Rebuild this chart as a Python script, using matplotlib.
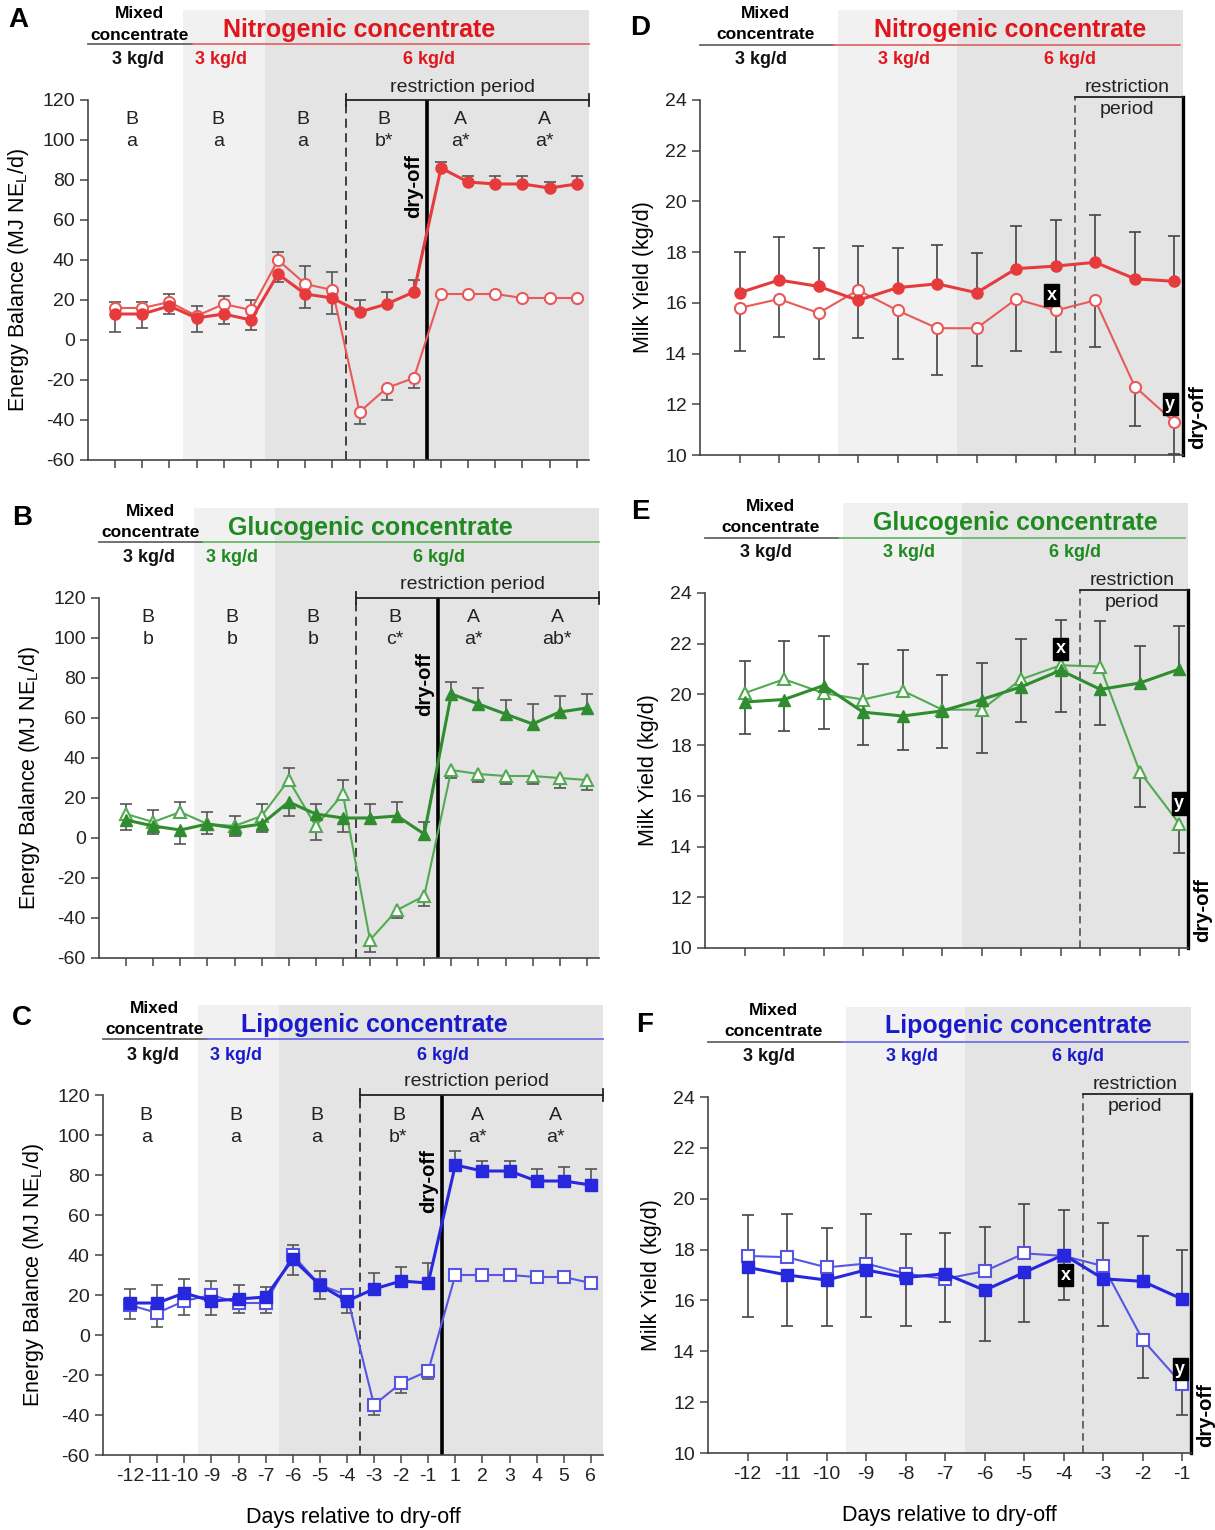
import numpy as np
import matplotlib.pyplot as plt

plt.rcParams['font.family'] = ['Liberation Sans', 'DejaVu Sans']
plt.rcParams['axes.unicode_minus'] = False

# ---- data ----
days_eb = [-12, -11, -10, -9, -8, -7, -6, -5, -4, -3, -2, -1, 1, 2, 3, 4, 5, 6]
days_my = [-12, -11, -10, -9, -8, -7, -6, -5, -4, -3, -2, -1]

# energy balance (MJ NEL/d), filled = control, open = restricted
eb_nitro_filled = [13, 13, 17, 11, 13, 10, 33, 23, 21, 14, 18, 24, 86, 79, 78, 78, 76, 78]
eb_nitro_filled_se = [9, 7, 4, 7, 5, 5, 4, 7, 8, 6, 6, 6, 3, 3, 4, 4, 3, 4]
eb_nitro_open = [16, 16, 19, 12, 18, 15, 40, 28, 25, -36, -24, -19, 23, 23, 23, 21, 21, 21]
eb_nitro_open_se = [3, 3, 4, 5, 4, 5, 4, 9, 9, 6, 6, 5, 1, 1, 1, 1, 1, 1]

eb_gluco_filled = [9, 6, 4, 7, 5, 7, 18, 12, 10, 10, 11, 2, 72, 67, 62, 57, 63, 65]
eb_gluco_filled_se = [5, 4, 7, 6, 4, 4, 7, 5, 7, 7, 7, 6, 6, 8, 7, 10, 8, 7]
eb_gluco_open = [12, 8, 13, 7, 6, 11, 29, 6, 22, -51, -36, -29, 34, 32, 31, 31, 30, 29]
eb_gluco_open_se = [5, 6, 5, 5, 5, 6, 6, 7, 7, 6, 4, 5, 4, 4, 4, 4, 5, 5]

eb_lipo_filled = [16, 16, 21, 17, 18, 19, 38, 25, 17, 23, 27, 26, 85, 82, 82, 77, 77, 75]
eb_lipo_filled_se = [7, 9, 7, 7, 7, 5, 8, 7, 6, 8, 7, 10, 7, 5, 5, 6, 7, 8]
eb_lipo_open = [15, 11, 17, 20, 16, 16, 40, 25, 20, -35, -24, -18, 30, 30, 30, 29, 29, 26]
eb_lipo_open_se = [7, 7, 7, 7, 5, 5, 5, 7, 2, 5, 5, 4, 2, 2, 2, 2, 2, 2]

# milk yield (kg/d)
my_nitro_filled = [16.4, 16.9, 16.65, 16.1, 16.6, 16.75, 16.4, 17.35, 17.45, 17.6, 16.95, 16.85]
my_nitro_filled_se = [1.6, 1.7, 1.5, 1.5, 1.55, 1.55, 1.55, 1.7, 1.8, 1.85, 1.85, 1.8]
my_nitro_open = [15.8, 16.15, 15.6, 16.5, 15.7, 15.0, 15.0, 16.15, 15.7, 16.1, 12.7, 11.3]
my_nitro_open_se = [1.7, 1.5, 1.8, 1.75, 1.9, 1.85, 1.5, 2.05, 1.65, 1.85, 1.55, 1.25]

my_gluco_filled = [19.7, 19.8, 20.35, 19.3, 19.15, 19.35, 19.8, 20.3, 20.95, 20.2, 20.45, 21.0]
my_gluco_filled_se = [1.25, 1.25, 1.95, 1.3, 1.35, 1.45, 1.45, 1.4, 1.65, 1.4, 1.45, 1.7]
my_gluco_open = [20.05, 20.6, 20.05, 19.8, 20.15, 19.4, 19.4, 20.6, 21.15, 21.1, 16.95, 14.9]
my_gluco_open_se = [1.25, 1.5, 1.4, 1.4, 1.6, 1.35, 1.7, 1.6, 1.8, 1.8, 1.4, 1.15]

my_lipo_filled = [17.3, 17.0, 16.8, 17.2, 16.9, 17.05, 16.4, 17.1, 17.8, 16.85, 16.75, 16.05]
my_lipo_filled_se = [1.95, 2.0, 1.8, 1.85, 1.9, 1.6, 2.0, 1.95, 1.75, 1.85, 1.8, 1.95]
my_lipo_open = [17.75, 17.7, 17.3, 17.45, 17.05, 16.85, 17.15, 17.85, 17.75, 17.35, 14.45, 12.7]
my_lipo_open_se = [1.6, 1.7, 1.55, 1.95, 1.55, 1.7, 1.75, 1.95, 1.75, 1.7, 1.5, 1.2]

letters_upper = ['B', 'B', 'B', 'B', 'A', 'A']
letters_nitro = ['a', 'a', 'a', 'b*', 'a*', 'a*']
letters_gluco = ['b', 'b', 'b', 'c*', 'a*', 'ab*']
letters_lipo = ['a', 'a', 'a', 'b*', 'a*', 'a*']

W, H = 1215, 1530
fig = plt.figure(figsize=(12.15, 15.3), dpi=100)


def rect(l, t, r, b):
    return [l / W, 1 - b / H, (r - l) / W, (b - t) / H]


def one_sided_bars(ax, x, f, fse, o, ose, ecol):
    f, fse, o, ose = map(np.asarray, (f, fse, o, ose))
    hi = f >= o
    # higher series gets the upper bar, lower series the lower bar
    f_end = np.where(hi, f + fse, f - fse)
    o_end = np.where(hi, o - ose, o + ose)
    for y0, y1 in ((f, f_end), (o, o_end)):
        ax.vlines(x, y0, y1, color=ecol, lw=1.2, zorder=2)
        ax.plot(x, y1, ls='none', marker='_', ms=9, mew=1.2, color=ecol, zorder=2)


def style_axes(ax):
    for s in ('top', 'right'):
        ax.spines[s].set_visible(False)
    for s in ('left', 'bottom'):
        ax.spines[s].set_linewidth(1.2)
        ax.spines[s].set_color('#444')
    ax.tick_params(axis='both', labelsize=14, length=6, width=1.1, color='#444', labelcolor='#222')


def header(ax, xs, ys, title, tcol, lcol, xr):
    # xs: mixed, title, kg black, kg 3, kg 6 ; ys: mixed, conc, line, title, kg
    ax.text(xs[0], ys[0], 'Mixed', ha='center', va='center', fontsize=12.5, fontweight='bold')
    ax.text(xs[0], ys[1], 'concentrate', ha='center', va='center', fontsize=12.5, fontweight='bold')
    ax.plot([xr[0], xr[1]], [ys[2], ys[2]], color='#666', lw=1.3, clip_on=False)
    ax.plot([xr[2], xr[3]], [ys[2], ys[2]], color=lcol, lw=1.3, clip_on=False)
    ax.text(xs[1], ys[3], title, ha='center', va='center', fontsize=18, fontweight='bold', color=tcol)
    ax.text(xs[2], ys[4], '3 kg/d', ha='center', va='center', fontsize=13, fontweight='bold', color='#111')
    ax.text(xs[3], ys[4], '3 kg/d', ha='center', va='center', fontsize=13, fontweight='bold', color=tcol)
    ax.text(xs[4], ys[4], '6 kg/d', ha='center', va='center', fontsize=13, fontweight='bold', color=tcol)


def eb_panel(box, f, fse, o, ose, col, ocol, mk, title, tcol, lcol, lower, letter_x, show_x):
    ax = fig.add_axes(rect(*box))
    x = np.arange(len(days_eb))
    x0, x1 = -1, 17.45
    ax.set_xlim(x0, x1)
    ax.set_ylim(-60, 120)
    ax.axvspan(2.5, 5.5, ymin=0, ymax=1.25, color='#f1f1f1', zorder=0, clip_on=False, lw=0)
    ax.axvspan(5.5, x1, ymin=0, ymax=1.25, color='#e4e4e4', zorder=0, clip_on=False, lw=0)
    ax.plot([8.5, 8.5], [-60, 120], color='#333', lw=1.3, dashes=(5, 3), zorder=1)
    ax.plot([11.5, 11.5], [-60, 120], color='black', lw=2.6, zorder=1)
    ax.plot([8.5, x1], [120, 120], color='#222', lw=1.3, clip_on=False)
    ax.plot([x1, x1], [117, 123], color='#222', lw=1.3, clip_on=False)
    ax.plot([8.5, 8.5], [117, 123], color='#222', lw=1.3, clip_on=False)
    ax.text(12.8, 126.5, 'restriction period', ha='center', va='center', fontsize=14, color='#222')
    ax.text(11.0, 77, 'dry-off', rotation=90, ha='center', va='center', fontsize=14.5, fontweight='bold')
    for lx, u, lo in zip(letter_x, letters_upper, lower):
        ax.text(lx, 110, u, ha='center', va='center', fontsize=14, color='#222')
        ax.text(lx, 99, lo, ha='center', va='center', fontsize=14, color='#222')

    one_sided_bars(ax, x, f, fse, o, ose, '#555')
    ax.plot(x, o, color=ocol, lw=1.5, marker=mk, ms=8, mfc='white', mec=ocol, mew=1.5, zorder=4)
    ax.plot(x, f, color=col, lw=2.2, marker=mk, ms=8, mfc=col, mec=col, zorder=5)

    header(ax, [0.9, 9.0, 0.85, 3.9, 11.55], [163, 152.5, 148, 155, 140], title, tcol, lcol,
           [-1, 2.85, 2.85, x1])
    style_axes(ax)
    ax.set_yticks(range(-60, 121, 20))
    ax.set_xticks(x)
    ax.set_xticklabels([str(d) for d in days_eb] if show_x else [])
    ax.set_ylabel('Energy Balance (MJ NE$_\\mathregular{L}$/d)', fontsize=15.5, labelpad=8)
    if show_x:
        ax.set_xlabel('Days relative to dry-off', fontsize=15.5, labelpad=16)
    return ax


def my_panel(box, f, fse, o, ose, col, ocol, mk, title, tcol, lcol, xy_x, xy_y, show_x):
    ax = fig.add_axes(rect(*box))
    x = np.arange(len(days_my))
    x0, x1 = -1, 11.22
    ax.set_xlim(x0, x1)
    ax.set_ylim(10, 24)
    ax.axvspan(2.5, 5.5, ymin=0, ymax=1.254, color='#f1f1f1', zorder=0, clip_on=False, lw=0)
    ax.axvspan(5.5, x1, ymin=0, ymax=1.254, color='#e4e4e4', zorder=0, clip_on=False, lw=0)
    ax.plot([8.5, 8.5], [10, 24.12], color='#444', lw=1.1, dashes=(5, 3), zorder=1, clip_on=False)
    ax.plot([x1, x1], [10, 24.12], color='black', lw=2.4, zorder=1, clip_on=False)
    ax.plot([8.5, x1], [24.12, 24.12], color='#222', lw=1.3, clip_on=False)
    ax.text(9.8, 24.5, 'restriction', ha='center', va='center', fontsize=14, color='#222')
    ax.text(9.8, 23.62, 'period', ha='center', va='center', fontsize=14, color='#222')
    ax.text(11.58, 11.5, 'dry-off', rotation=90, ha='center', va='center', fontsize=14.5,
            fontweight='bold', clip_on=False)
    box_style = dict(boxstyle='square,pad=0.15', facecolor='black', edgecolor='black')
    ax.text(xy_x[0], xy_y[0], 'x', ha='center', va='center', fontsize=13, fontweight='bold',
            color='white', bbox=box_style, zorder=6)
    ax.text(xy_x[1], xy_y[1], 'y', ha='center', va='center', fontsize=13, fontweight='bold',
            color='white', bbox=box_style, zorder=6)

    one_sided_bars(ax, x, f, fse, o, ose, '#444')
    ax.plot(x, o, color=ocol, lw=1.5, marker=mk, ms=8, mfc='white', mec=ocol, mew=1.5, zorder=4)
    ax.plot(x, f, color=col, lw=2.2, marker=mk, ms=8, mfc=col, mec=col, zorder=5)

    header(ax, [0.65, 6.85, 0.55, 4.15, 8.35], [27.4, 26.58, 26.15, 26.78, 25.58], title, tcol, lcol,
           [-1, 2.4, 2.4, 11.15])
    style_axes(ax)
    ax.set_yticks(range(10, 25, 2))
    ax.set_xticks(x)
    ax.set_xticklabels([str(d) for d in days_my] if show_x else [])
    ax.set_ylabel('Milk Yield (kg/d)', fontsize=15.5, labelpad=8)
    if show_x:
        ax.set_xlabel('Days relative to dry-off', fontsize=15.5, labelpad=16)
    return ax


red, red_o, red_t, red_l = '#e63b3d', '#e85a5a', '#e0161c', '#e06a6a'
grn, grn_o, grn_t, grn_l = '#2f8c2f', '#52aa52', '#1f8a1f', '#6ab86a'
blu, blu_o, blu_t, blu_l = '#2727de', '#5656e2', '#1a1acc', '#7070e0'

eb_panel((88, 100, 589, 460), eb_nitro_filled, eb_nitro_filled_se, eb_nitro_open, eb_nitro_open_se,
         red, red_o, 'o', 'Nitrogenic concentrate', red_t, red_l, letters_nitro,
         [0.6, 3.8, 6.9, 9.9, 12.7, 15.8], False)
eb_panel((99, 598, 599, 958), eb_gluco_filled, eb_gluco_filled_se, eb_gluco_open, eb_gluco_open_se,
         grn, grn_o, '^', 'Glucogenic concentrate', grn_t, grn_l, letters_gluco,
         [0.8, 3.9, 6.9, 9.9, 12.8, 15.9], False)
eb_panel((103, 1095, 603, 1455), eb_lipo_filled, eb_lipo_filled_se, eb_lipo_open, eb_lipo_open_se,
         blu, blu_o, 's', 'Lipogenic concentrate', blu_t, blu_l, letters_lipo,
         [0.6, 3.9, 6.9, 9.9, 12.8, 15.7], True)

my_panel((700, 100, 1183, 455), my_nitro_filled, my_nitro_filled_se, my_nitro_open, my_nitro_open_se,
         red, red_o, 'o', 'Nitrogenic concentrate', red_t, red_l, [7.9, 10.9], [16.3, 12.0], False)
my_panel((705, 593, 1188, 948), my_gluco_filled, my_gluco_filled_se, my_gluco_open, my_gluco_open_se,
         grn, grn_o, '^', 'Glucogenic concentrate', grn_t, grn_l, [8.0, 11.0], [21.8, 15.7], False)
my_panel((708, 1097, 1191, 1453), my_lipo_filled, my_lipo_filled_se, my_lipo_open, my_lipo_open_se,
         blu, blu_o, 's', 'Lipogenic concentrate', blu_t, blu_l, [8.05, 10.95], [17.0, 13.3], True)

for lab, px, py in [('A', 18, 20), ('B', 22, 518), ('C', 22, 1018),
                    ('D', 640, 28), ('E', 640, 512), ('F', 645, 1025)]:
    fig.text(px / W, 1 - py / H, lab, fontsize=20, fontweight='bold', ha='center', va='center')

fig.savefig('out.png', dpi=100, facecolor='white')
